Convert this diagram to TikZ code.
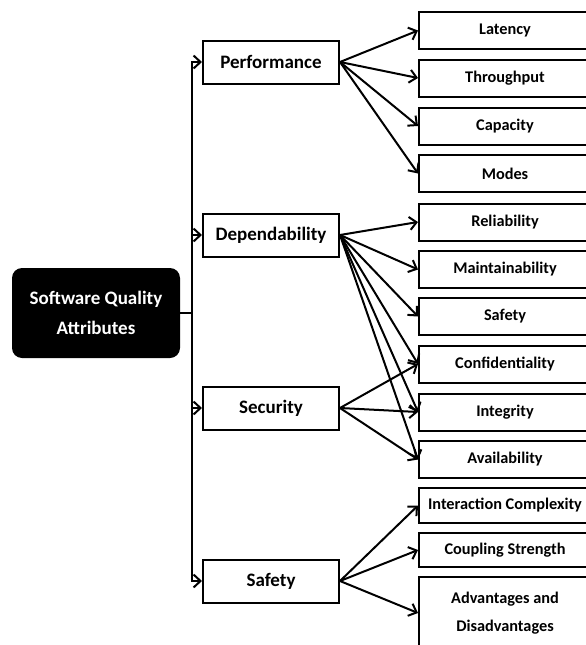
\documentclass[tikz,border=0pt]{standalone}
\usepackage{fontspec}
\setmainfont{Carlito}
\usetikzlibrary{arrows.meta}

\tikzset{
    attr/.style={draw, line width=2pt, minimum width=136pt, minimum height=43pt,
        font=\bfseries\fontsize{19}{22}\selectfont},
    sub/.style={draw, line width=2pt, minimum width=172pt, minimum height=37pt,
        align=center, font=\bfseries\fontsize{16.3}{28}\selectfont},
    link/.style={line width=2pt, -{Straight Barb[length=7pt,width=13pt,line width=2pt]}}
}

\begin{document}
\begin{tikzpicture}[x=1pt, y=-1pt]
%\draw [help lines] (0,0) grid [step=50] (586,645);
    \useasboundingbox (0,0) rectangle (586,645);
    \begin{scope}
        \clip (0,0) rectangle (586,645);
        \node [fill=black, rounded corners=10pt, minimum width=168pt, minimum height=90pt,
            text=white, align=center, font=\bfseries\fontsize{19}{30}\selectfont]
            (sqa) at (96,313) {Software Quality\\Attributes};
        % second level
        \node [attr] (perf) at (271,62) {Performance};
        \node [attr] (dep) at (271,235) {Dependability};
        \node [attr] (sec) at (271,408) {Security};
        \node [attr] (saf) at (271,581) {Safety};
        % third level
        \node [sub] (lat) at (505,30.5) {Latency};
        \node [sub] (thr) at (505,78) {Throughput};
        \node [sub] (cap) at (505,126) {Capacity};
        \node [sub] (mod) at (505,173.5) {Modes};
        \node [sub] (rel) at (505,222) {Reliability};
        \node [sub] (mai) at (505,269.5) {Maintainability};
        \node [sub] (sft) at (505,316.5) {Safety};
        \node [sub] (con) at (505,364) {Confidentiality};
        \node [sub] (int) at (505,412) {Integrity};
        \node [sub] (ava) at (505,459.5) {Availability};
        \node [sub, minimum height=35pt] (ic) at (505,505.5) {Interaction Complexity};
        \node [sub, minimum height=34pt] (cs) at (505,550) {Coupling Strength};
        \node [sub, minimum height=72pt] (ad) at (505,613) {Advantages and\\Disadvantages};
        % connectors
        \coordinate (spine) at (192,313);
        \draw [line width=2pt] (sqa.east) -- (spine);
        \foreach \n in {perf, dep, sec, saf}
            \draw [link] (spine) |- (\n.west);
        \foreach \n in {lat, thr, cap, mod}
            \draw [link] (perf.east) -- (\n.west);
        \foreach \n in {rel, mai, sft, con, int, ava}
            \draw [link] (dep.east) -- (\n.west);
        \foreach \n in {con, int, ava}
            \draw [link] (sec.east) -- (\n.west);
        \foreach \n in {ic, cs, ad}
            \draw [link] (saf.east) -- (\n.west);
    \end{scope}
\end{tikzpicture}
\end{document}
